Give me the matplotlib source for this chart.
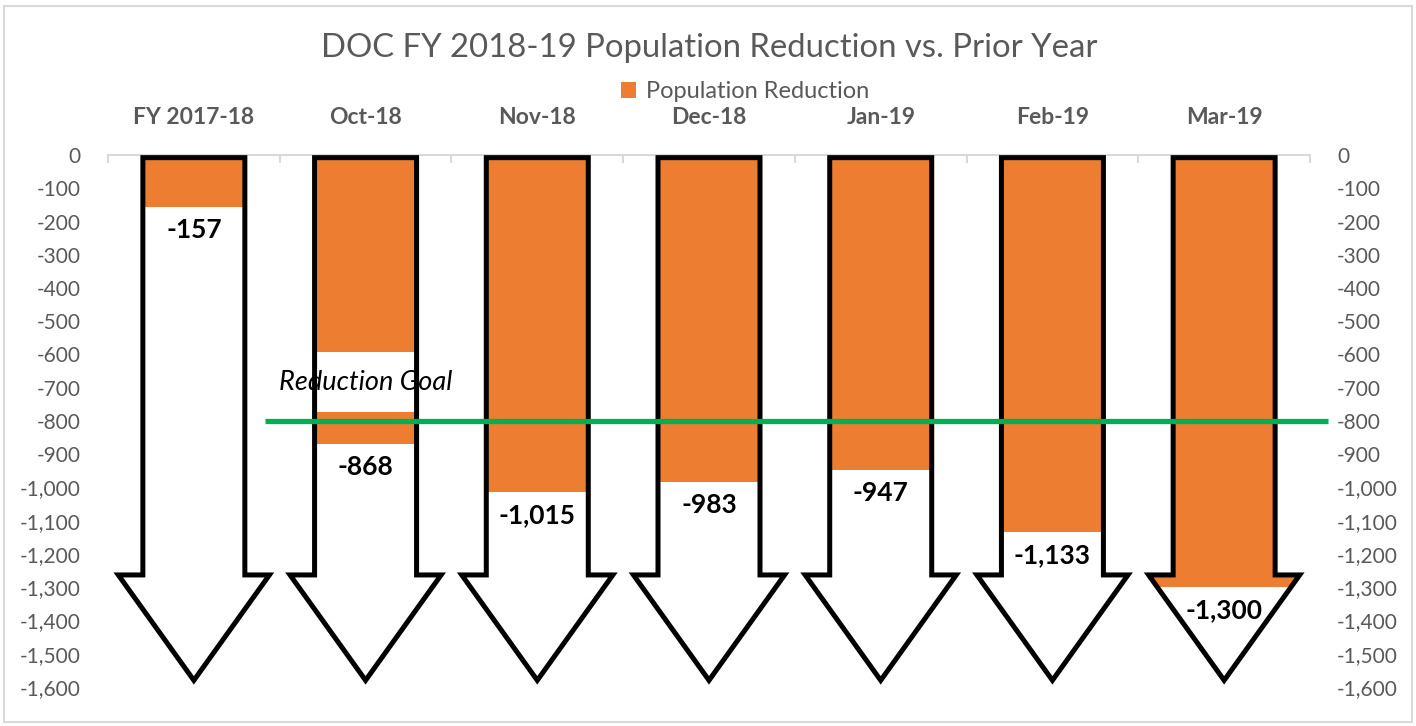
import matplotlib
matplotlib.use("Agg")
import matplotlib.pyplot as plt
import matplotlib.transforms as mtransforms
from matplotlib.patches import Polygon, Rectangle, Patch
from matplotlib.ticker import FuncFormatter, FixedLocator

plt.rcParams['font.family'] = ['Lato', 'DejaVu Sans']

categories = ["FY 2017-18", "Oct-18", "Nov-18", "Dec-18", "Jan-19", "Feb-19", "Mar-19"]
reduction = [-157, -868, -1015, -983, -947, -1133, -1300]
value_labels = ["-157", "-868", "-1,015", "-983", "-947", "-1,133", "-1,300"]
goal = -800
y_ticks = list(range(0, -1700, -100))

ORANGE = "#ED7D31"
GREEN = "#00B050"
GRAY = "#595959"

W, H = 1416, 726
fig = plt.figure(figsize=(W / 100, H / 100), dpi=100)
ax = fig.add_axes([108 / W, 1 - 687 / H, (1310 - 108) / W, (687 - 155) / H])
ax.set_xlim(-0.5, len(categories) - 0.5)
ax.set_ylim(-1600, 0)

# arrow geometry (style)
ws, wh = 0.297, 0.44
top, head_y, tip_y = -8, -1263, -1580

for i, v in enumerate(reduction):
    pts = [(i - ws, top), (i + ws, top), (i + ws, head_y), (i + wh, head_y),
           (i, tip_y), (i - wh, head_y), (i - ws, head_y)]
    base = Polygon(pts, closed=True, facecolor="white", edgecolor="none", zorder=2)
    ax.add_patch(base)
    bars = ax.bar([i], [v], width=2 * wh, color=ORANGE, zorder=3)
    for b in bars:
        b.set_clip_path(base)
    outline = Polygon(pts, closed=True, facecolor="none", edgecolor="black",
                      lw=3.6, joinstyle="miter", zorder=5)
    ax.add_patch(outline)
    ax.annotate(value_labels[i], xy=(i, v), xytext=(0, -8), textcoords="offset points",
                ha="center", va="top", fontsize=19, fontweight="bold", color="black", zorder=8)

# Reduction goal text box
ax.add_patch(Rectangle((0.414, -773), 1.58 - 0.414, 181, facecolor="white",
                       edgecolor="none", zorder=4))
ax.text(1.0, -683, "Reduction Goal", ha="center", va="center", fontsize=19.5,
        style="italic", color="black", zorder=8)

# goal line
ax.plot([0.414, 6.605], [goal, goal], color=GREEN, lw=3.8, zorder=6,
        clip_on=False, solid_capstyle="butt")

# axes styling
for s in ["left", "right", "bottom"]:
    ax.spines[s].set_visible(False)
ax.spines["top"].set_color("#d9d9d9")
ax.spines["top"].set_linewidth(1.5)
ax.xaxis.set_major_locator(FixedLocator([k - 0.5 for k in range(len(categories) + 1)]))
ax.tick_params(axis="x", which="both", bottom=False, top=True, labelbottom=False,
               labeltop=False, direction="in", length=6, width=1.5, color="#d9d9d9")
ax.set_yticks(y_ticks)
ax.yaxis.set_major_formatter(FuncFormatter(lambda val, pos: f"{int(val):,}"))
ax.tick_params(axis="y", left=False, right=False, labelleft=True, labelright=True,
               labelsize=15, labelcolor=GRAY, pad=16)

# category labels
tr = mtransforms.blended_transform_factory(ax.transData, fig.transFigure)
for i, c in enumerate(categories):
    ax.text(i, 1 - 118 / H, c, transform=tr, ha="center", va="center",
            fontsize=16.5, fontweight="bold", color=GRAY)

fig.text(709 / W, 1 - 48 / H, "DOC FY 2018-19 Population Reduction vs. Prior Year",
         ha="center", va="center", fontsize=23.7, color=GRAY)

fig.legend(handles=[Patch(facecolor=ORANGE, edgecolor="none", label="Population Reduction")],
           loc="center", bbox_to_anchor=(745 / W, 1 - 92 / H), frameon=False,
           fontsize=17, labelcolor=GRAY, handlelength=0.65, handleheight=0.65,
           handletextpad=0.4, borderpad=0.1)

fig.patches.append(Rectangle((4 / W, 4 / H), (W - 8) / W, (H - 10) / H,
                             transform=fig.transFigure, fill=False,
                             edgecolor="#d9d9d9", lw=1.5))

fig.savefig("out.png", dpi=100)
